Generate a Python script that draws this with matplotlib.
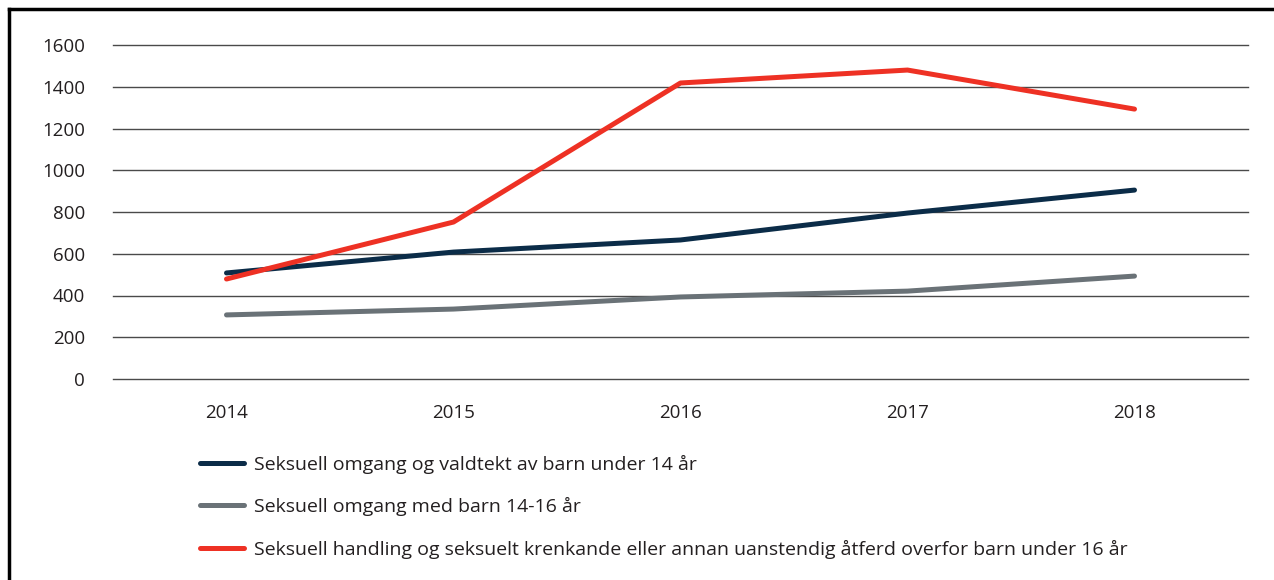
import matplotlib.pyplot as plt
from matplotlib.lines import Line2D

plt.rcParams['font.family'] = ['Open Sans', 'DejaVu Sans']

years = ['2014', '2015', '2016', '2017', '2018']
under14 = [508, 608, 666, 795, 905]
age14_16 = [307, 335, 393, 421, 493]
handling = [479, 752, 1418, 1480, 1293]

labels = ['Seksuell omgang og valdtekt av barn under 14 år',
          'Seksuell omgang med barn 14-16 år',
          'Seksuell handling og seksuelt krenkande eller annan uanstendig åtferd overfor barn under 16 år']
colors = ['#0b2c48', '#6a7277', '#ee3124']

fig = plt.figure(figsize=(12.74, 5.8), dpi=100)
ax = fig.add_axes([113/1274, 1 - 379/580, (1248-113)/1274, (379-45)/580])

x = range(len(years))
for vals, lab, col in zip([under14, age14_16, handling], labels, colors):
    ax.plot(x, vals, color=col, lw=3.6, solid_capstyle='round', solid_joinstyle='round', label=lab, zorder=3)

ax.set_xlim(-0.5, 4.5)
ax.set_ylim(0, 1600)
ax.set_yticks(range(0, 1601, 200))
ax.set_xticks(list(x))
ax.set_xticklabels(years)
ax.grid(axis='y', color='#4a4a4a', lw=1.0)
for gl in ax.get_ygridlines():
    gl.set_clip_on(False)
ax.set_axisbelow(True)
for s in ax.spines.values():
    s.set_visible(False)
ax.tick_params(length=0, labelsize=13.5, labelcolor='#231f20')
ax.tick_params(axis='y', pad=20)
ax.tick_params(axis='x', pad=18)

fig.legend(loc='upper left', bbox_to_anchor=(192/1274, 1 - 447/580), frameon=False,
           fontsize=14, handlelength=2.3, handletextpad=0.5, labelspacing=1.2,
           labelcolor='#231f20', borderaxespad=0)

# frame at top and left of the figure
fig.add_artist(Line2D([9/1274, 1], [1 - 9/580, 1 - 9/580], color='black', lw=2.5, transform=fig.transFigure))
fig.add_artist(Line2D([9/1274, 9/1274], [0, 1 - 9/580], color='black', lw=2.5, transform=fig.transFigure))

fig.savefig('out.png', dpi=100)
